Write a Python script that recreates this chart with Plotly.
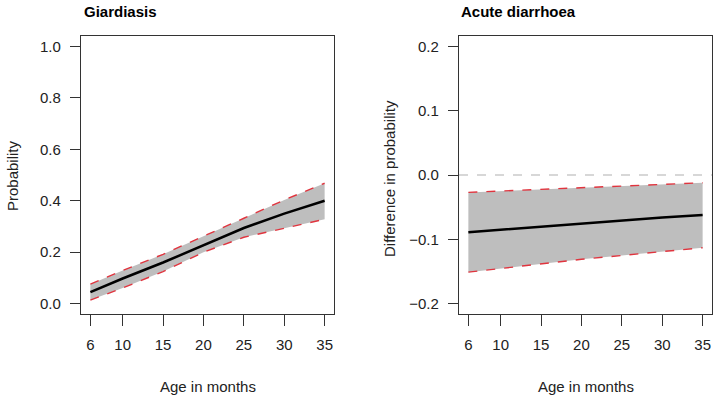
import plotly.graph_objects as go

# Data
age = [6, 10, 15, 20, 25, 30, 35]
giardia_mean = [0.045, 0.098, 0.160, 0.228, 0.294, 0.350, 0.400]
giardia_lower = [0.014, 0.061, 0.125, 0.200, 0.258, 0.293, 0.328]
giardia_upper = [0.076, 0.129, 0.192, 0.261, 0.332, 0.403, 0.468]

diarr_mean = [-0.089, -0.085, -0.080, -0.075, -0.071, -0.066, -0.062]
diarr_lower = [-0.151, -0.145, -0.138, -0.131, -0.125, -0.119, -0.113]
diarr_upper = [-0.027, -0.025, -0.022, -0.019, -0.017, -0.014, -0.012]

x_ticks = [6, 10, 15, 20, 25, 30, 35]
y_ticks_left = [0.0, 0.2, 0.4, 0.6, 0.8, 1.0]
y_ticks_right = [-0.2, -0.1, 0.0, 0.1, 0.2]

FONT = "Liberation Sans, Arial, sans-serif"
GREY = "#BEBEBE"
RED = "#E0343E"

fig = go.Figure()

def add_panel(xa, ya, mean, lower, upper):
    fig.add_trace(go.Scatter(x=age, y=lower, mode="lines", line=dict(width=0, color=GREY),
                             xaxis=xa, yaxis=ya, showlegend=False, hoverinfo="skip"))
    fig.add_trace(go.Scatter(x=age, y=upper, mode="lines", line=dict(width=0, color=GREY),
                             fill="tonexty", fillcolor=GREY,
                             xaxis=xa, yaxis=ya, showlegend=False, hoverinfo="skip"))
    for s in (lower, upper):
        fig.add_trace(go.Scatter(x=age, y=s, mode="lines",
                                 line=dict(color=RED, width=1.4, dash="dash"),
                                 xaxis=xa, yaxis=ya, showlegend=False))
    fig.add_trace(go.Scatter(x=age, y=mean, mode="lines",
                             line=dict(color="black", width=2.5),
                             xaxis=xa, yaxis=ya, showlegend=False))

# reference line at zero on right panel
fig.add_trace(go.Scatter(x=[4.84, 36.16], y=[0, 0], mode="lines",
                         line=dict(color="#B0B0B0", width=1.2, dash="dash"),
                         xaxis="x2", yaxis="y2", showlegend=False))
add_panel("x", "y", giardia_mean, giardia_lower, giardia_upper)
add_panel("x2", "y2", diarr_mean, diarr_lower, diarr_upper)

ydom = [1 - 314 / 403, 1 - 36 / 403]
axis_common = dict(showgrid=False, zeroline=False, showline=True, mirror=True,
                   linecolor="#333333", linewidth=1.2, ticks="outside",
                   tickcolor="#333333", tickwidth=1.2,
                   tickfont=dict(family=FONT, size=15, color="#222222"))

fig.update_layout(
    width=716, height=403,
    margin=dict(l=0, r=0, t=0, b=0),
    paper_bgcolor="white", plot_bgcolor="white",
    xaxis=dict(domain=[81 / 716, 334 / 716], range=[4.84, 36.16], tickvals=x_ticks,
               ticklen=11, ticklabelstandoff=6, anchor="y", **axis_common),
    yaxis=dict(domain=ydom, range=[-0.04, 1.04], tickvals=y_ticks_left,
               tickformat=".1f", ticklen=10, ticklabelstandoff=6, anchor="x", **axis_common),
    xaxis2=dict(domain=[459 / 716, 712 / 716], range=[4.84, 36.16], tickvals=x_ticks,
                ticklen=11, ticklabelstandoff=6, anchor="y2", **axis_common),
    yaxis2=dict(domain=ydom, range=[-0.216, 0.216], tickvals=y_ticks_right,
                tickformat=".1f", ticklen=10, ticklabelstandoff=6, anchor="x2", **axis_common),
    annotations=[
        dict(text="<b>Giardiasis</b>", x=82 / 716, y=1 - 11 / 403, xref="paper", yref="paper",
             xanchor="left", yanchor="middle", showarrow=False,
             font=dict(family=FONT, size=15, color="black")),
        dict(text="<b>Acute diarrhoea</b>", x=459 / 716, y=1 - 11 / 403, xref="paper", yref="paper",
             xanchor="left", yanchor="middle", showarrow=False,
             font=dict(family=FONT, size=15, color="black")),
        dict(text="Age in months", x=208 / 716, y=1 - 386 / 403, xref="paper", yref="paper",
             xanchor="center", yanchor="middle", showarrow=False,
             font=dict(family=FONT, size=15, color="#222222")),
        dict(text="Age in months", x=586 / 716, y=1 - 386 / 403, xref="paper", yref="paper",
             xanchor="center", yanchor="middle", showarrow=False,
             font=dict(family=FONT, size=15, color="#222222")),
        dict(text="Probability", x=12 / 716, y=1 - 176 / 403, xref="paper", yref="paper",
             xanchor="center", yanchor="middle", showarrow=False, textangle=-90,
             font=dict(family=FONT, size=15, color="#222222")),
        dict(text="Difference in probability", x=390 / 716, y=1 - 178 / 403, xref="paper", yref="paper",
             xanchor="center", yanchor="middle", showarrow=False, textangle=-90,
             font=dict(family=FONT, size=15, color="#222222")),
    ],
)

fig.write_html("out.html", config={"displayModeBar": False},
               post_script="document.body.style.margin='0px';document.body.style.overflow='hidden';")
